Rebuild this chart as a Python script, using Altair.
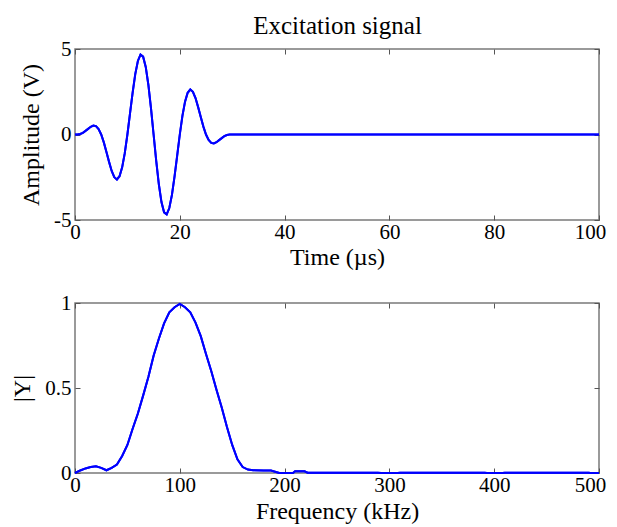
import altair as alt
import pandas as pd

# --- Excitation signal (time in microseconds, amplitude in volts)
time_us = [0, 0.5, 1, 1.5, 2, 2.5, 3, 3.5, 4, 4.5, 5, 5.5, 6, 6.5, 7, 7.5, 8, 8.5, 9, 9.5,
           10, 10.5, 11, 11.5, 12, 12.5, 13, 13.5, 14, 14.5, 15, 15.5, 16, 16.5, 17, 17.5,
           18, 18.5, 19, 19.5, 20, 20.5, 21, 21.5, 22, 22.5, 23, 23.5, 24, 24.5, 25, 25.5,
           26, 26.5, 27, 27.5, 28, 28.5, 29, 29.5, 30, 100]
amplitude_v = [0.0, 0.0, 0.03, 0.1, 0.21, 0.33, 0.45, 0.52, 0.49, 0.32, 0.0, -0.46, -1.02,
               -1.6, -2.13, -2.5, -2.63, -2.44, -1.92, -1.09, 0.0, 1.23, 2.45, 3.53, 4.3,
               4.67, 4.55, 3.95, 2.91, 1.54, 0.0, -1.54, -2.91, -3.95, -4.55, -4.67, -4.3,
               -3.53, -2.45, -1.23, 0.0, 1.09, 1.92, 2.44, 2.63, 2.5, 2.13, 1.6, 1.02, 0.46,
               0.0, -0.32, -0.49, -0.52, -0.45, -0.33, -0.21, -0.1, -0.03, 0.0, 0.0, 0.0]

# --- Spectrum magnitude (frequency in kHz, normalised |Y|)
freq_khz = [0, 5, 10, 15, 20, 25, 30, 35, 40, 45, 50, 55, 60, 65, 70, 75, 80, 85, 90, 95,
            100, 105, 110, 115, 120, 125, 130, 135, 140, 145, 150, 155, 160, 165, 170, 180,
            187, 195, 208, 210, 219, 222, 289, 292, 308, 310, 391, 393, 408, 410, 490, 492, 500]
magnitude = [0.0, 0.015, 0.027, 0.035, 0.04, 0.03, 0.016, 0.03, 0.05, 0.1, 0.165, 0.26,
             0.35, 0.455, 0.565, 0.69, 0.79, 0.88, 0.945, 0.975, 0.995, 0.975, 0.945, 0.885,
             0.805, 0.7, 0.6, 0.49, 0.385, 0.27, 0.165, 0.08, 0.035, 0.02, 0.016, 0.015,
             0.015, 0.0, 0.0, 0.01, 0.01, 0.002, 0.002, 0.0, 0.0, 0.002, 0.002, 0.0, 0.0,
             0.002, 0.002, 0.0, 0.0]

time_ticks = [0, 20, 40, 60, 80, 100]
amp_ticks = [-5, 0, 5]
freq_ticks = [0, 100, 200, 300, 400, 500]
mag_ticks = [0, 0.5, 1]

FONT = "Liberation Serif"
BLUE = "#0000ff"
TICK = "#555555"
W = 524
LABEL_SIZE = 21
TITLE_SIZE = 24

sig = pd.DataFrame({"t": time_us, "v": amplitude_v})
spec = pd.DataFrame({"f": freq_khz, "m": magnitude})


def main_axis(values, title, orient, title_pad, label_pad, last_shift=None):
    kw = dict(values=values, title=title, orient=orient, offset=-5, tickSize=5,
              tickColor=TICK, tickWidth=1, domain=False, grid=False, labelFlush=False,
              labelFont=FONT, labelFontSize=LABEL_SIZE, labelColor="black",
              labelPadding=label_pad, labelExpr="'' + datum.value", titleFont=FONT,
              titleFontSize=TITLE_SIZE, titleFontWeight="normal", titleColor="black",
              titlePadding=title_pad)
    if last_shift is not None:
        # keep the right-most label inside the page
        kw["labelOffset"] = {"condition": {"test": f"datum.value == {values[-1]}",
                                           "value": last_shift}, "value": 0}
    return alt.Axis(**kw)


def side_axis(values, orient, title=None):
    kw = dict(values=values, orient=orient, offset=-5, tickSize=5, tickColor=TICK,
              tickWidth=1, domain=False, grid=False, labels=False)
    if title is not None:
        kw.update(title=title, titleFont=FONT, titleFontSize=25, titleFontWeight="normal",
                  titleColor="black", titlePadding=10)
    else:
        kw.update(title=None)
    return alt.Axis(**kw)


def panel(df, xf, yf, xdom, ydom, xticks, yticks, xtitle, ytitle, h, xtitle_pad,
          top_title=None):
    base = alt.Chart(df)
    main = base.mark_line(color=BLUE, strokeWidth=2).encode(
        x=alt.X(f"{xf}:Q", scale=alt.Scale(domain=xdom, nice=False, zero=False),
                axis=main_axis(xticks, xtitle, "bottom", xtitle_pad, 1, last_shift=-9)),
        y=alt.Y(f"{yf}:Q", scale=alt.Scale(domain=ydom, nice=False, zero=False),
                axis=main_axis(yticks, ytitle, "left", 10, 4)),
    )
    other = base.mark_line(color=BLUE, strokeWidth=2).encode(
        x=alt.X(f"{xf}:Q", scale=alt.Scale(domain=xdom, nice=False, zero=False),
                axis=side_axis(xticks, "top", top_title)),
        y=alt.Y(f"{yf}:Q", scale=alt.Scale(domain=ydom, nice=False, zero=False),
                axis=side_axis(yticks, "right")),
    )
    return alt.layer(other, main).resolve_scale(
        x="independent", y="independent").properties(width=W, height=h)


top = panel(sig, "t", "v", [0, 100], [-5, 5], time_ticks, amp_ticks,
            "Time (µs)", "Amplitude (V)", 171, 3, top_title="Excitation signal")
bottom = panel(spec, "f", "m", [0, 500], [0, 1], freq_ticks, mag_ticks,
               "Frequency (kHz)", "|Y|", 170, 4)

chart = alt.vconcat(top, bottom, spacing=83, bounds="flush").properties(
    padding={"left": 2, "top": 4, "right": 0, "bottom": 0}
).configure(background="white").configure_view(stroke="#7a7a7a", strokeWidth=1.5)

chart.save("out.html", embed_options={"renderer": "svg", "actions": False})
